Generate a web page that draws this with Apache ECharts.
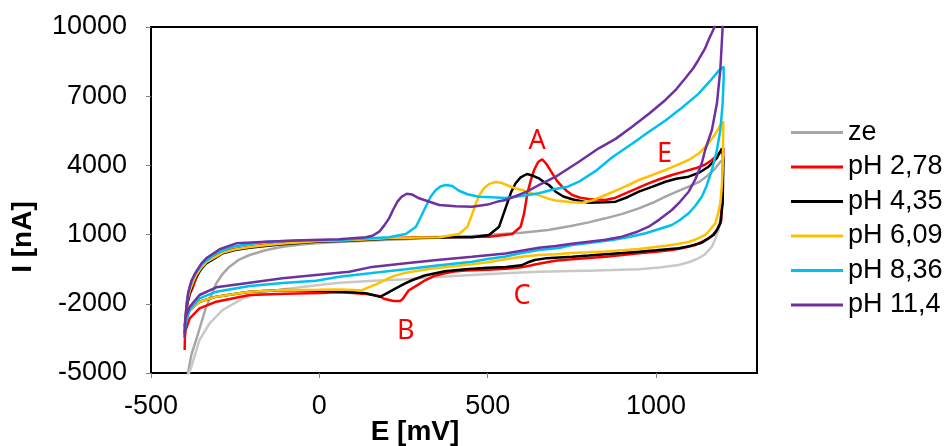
<!DOCTYPE html>
<html>
<head>
<meta charset="utf-8">
<script src="https://cdn.jsdelivr.net/npm/echarts@6/dist/echarts.min.js"></script>
<style>
html,body{margin:0;padding:0;background:#fff;}
#chart{width:948px;height:446px;}
</style>
</head>
<body>
<div id="chart"></div>
<script>
// ---- axis ticks ----
const xTicks = [-500, 0, 500, 1000];
const yTicks = [-5000, -2000, 1000, 4000, 7000, 10000];

// ---- series names ----
const seriesNames = ['ze', 'pH 2,78', 'pH 4,35', 'pH 6,09', 'pH 8,36', 'pH 11,4'];

// ---- data: [E mV, I nA] ----
const zeForward = [[-400,-6500],[-390,-5000],[-380,-4200],[-366,-3569],[-350,-2800],[-336,-2125],[-320,-1600],[-306,-1111],[-287,-700],[-267,-391],[-240,-100],[-207,116],[-160,320],[-109,477],[-60,560],[-10,622],[40,670],[89,700],[150,740],[250,800],[350,860],[450,930],[520,1000],[600,1080],[680,1200],[751,1380],[800,1530],[850,1705],[900,1900],[949,2139],[990,2380],[1028,2644],[1060,2850],[1097,3077],[1130,3300],[1156,3584],[1175,3850],[1191,4161],[1198,4235]];
const zeReverse = [[1198,4235],[1197,3300],[1196,2357],[1191,1700],[1186,1200],[1176,800],[1166,477],[1146,150],[1126,-27],[1097,-200],[1067,-317],[1010,-430],[949,-504],[870,-540],[800,-564],[750,-580],[652,-610],[550,-680],[454,-751],[350,-840],[257,-938],[150,-1010],[59,-1083],[-59,-1284],[-158,-1474],[-227,-1762],[-287,-2268],[-326,-2845],[-356,-3569],[-380,-4727],[-390,-5100],[-400,-6500]];
const ph278 = [[-400,-4000],[-399,-3300],[-397,-2700],[-392,-2000],[-385,-1600],[-375,-1258],[-366,-900],[-356,-534],[-340,-230],[-326,-27],[-307,140],[-287,260],[-250,380],[-207,477],[-160,560],[-109,622],[-50,690],[0,730],[89,767],[200,840],[300,880],[400,900],[504,910],[573,1026],[598,1343],[608,1900],[618,2790],[628,3350],[638,3801],[650,4150],[662,4265],[675,4050],[692,3657],[706,3330],[721,3077],[736,2880],[751,2717],[775,2600],[800,2544],[850,2500],[880,2600],[909,2790],[940,2980],[978,3224],[1010,3400],[1047,3584],[1080,3720],[1117,3874],[1145,4030],[1166,4235],[1185,4480],[1200,4750],
  [1199,4000],[1198,3200],[1196,2400],[1194,1633],[1188,1400],[1181,1200],[1170,1000],[1156,840],[1136,680],[1117,550],[1080,420],[1047,333],[1000,260],[949,190],[900,110],[850,43],[800,-10],[751,-70],[700,-130],[676,-197],[640,-300],[627,-341],[600,-420],[555,-485],[500,-520],[434,-557],[400,-600],[373,-673],[340,-800],[313,-990],[290,-1200],[265,-1423],[247,-1800],[240,-1880],[220,-1880],[192,-1783],[178,-1661],[140,-1580],[100,-1530],[59,-1500],[0,-1530],[-100,-1560],[-207,-1618],[-306,-1908],[-356,-2196],[-385,-2630],[-397,-3135],[-400,-3500]];
const ph435 = [[-400,-3300],[-398,-2700],[-393,-2000],[-385,-1545],[-375,-1100],[-366,-824],[-350,-480],[-336,-245],[-310,-20],[-287,190],[-250,330],[-207,433],[-160,510],[-109,578],[-50,650],[0,700],[89,737],[200,820],[300,860],[400,880],[454,882],[504,983],[534,1343],[558,2357],[570,2850],[583,3224],[598,3480],[617,3627],[635,3550],[652,3442],[670,3250],[682,3150],[702,2860],[725,2650],[751,2530],[800,2383],[850,2400],[880,2427],[915,2620],[949,2860],[990,3080],[1028,3293],[1060,3420],[1097,3510],[1130,3700],[1156,3944],[1180,4300],[1196,4741],[1201,4800],
  [1200,4235],[1199,3300],[1198,2357],[1191,1488],[1181,1200],[1171,983],[1150,780],[1136,650],[1100,500],[1067,406],[1000,320],[949,261],[900,200],[850,146],[800,90],[751,43],[700,0],[676,-20],[640,-100],[620,-200],[600,-330],[555,-400],[500,-440],[434,-500],[373,-590],[313,-774],[277,-968],[252,-1134],[227,-1328],[200,-1550],[180,-1700],[160,-1620],[138,-1545],[100,-1500],[59,-1474],[0,-1430],[-109,-1401],[-207,-1474],[-306,-1690],[-356,-1908],[-385,-2268],[-397,-2630],[-400,-3000]];
const ph609 = [[-400,-3100],[-398,-2500],[-393,-1900],[-385,-1450],[-375,-1050],[-366,-760],[-350,-420],[-336,-200],[-310,20],[-287,220],[-250,360],[-207,460],[-160,540],[-109,610],[-50,670],[0,720],[89,760],[200,840],[300,875],[356,882],[415,1026],[440,1343],[453,1850],[465,2357],[477,2750],[489,3007],[505,3200],[524,3280],[540,3250],[563,3107],[585,2990],[603,2933],[630,2800],[652,2700],[682,2550],[702,2480],[751,2400],[781,2383],[810,2480],[850,2717],[900,3030],[949,3367],[990,3590],[1028,3801],[1060,4000],[1097,4235],[1130,4550],[1156,4958],[1175,5330],[1191,5752],[1200,5900],
  [1199,4800],[1198,3801],[1195,3000],[1191,2357],[1184,1900],[1176,1488],[1160,1200],[1146,983],[1120,800],[1097,680],[1060,580],[1028,520],[990,450],[949,380],[900,320],[850,270],[800,230],[751,200],[700,150],[652,116],[600,40],[553,-70],[500,-200],[454,-290],[405,-361],[330,-480],[257,-650],[220,-800],[192,-990],[170,-1150],[144,-1300],[125,-1420],[99,-1400],[59,-1380],[0,-1390],[-109,-1401],[-207,-1474],[-306,-1690],[-356,-1908],[-385,-2268],[-397,-2630],[-400,-2900]];
const ph836 = [[-400,-3300],[-398,-2992],[-393,-1835],[-385,-1258],[-371,-751],[-346,-245],[-306,190],[-257,477],[-200,600],[-158,694],[-50,750],[59,767],[150,840],[207,882],[257,1026],[287,1343],[301,1750],[316,2210],[331,2650],[346,2933],[361,3100],[376,3150],[395,3110],[415,2900],[440,2750],[474,2644],[514,2616],[553,2590],[573,2620],[620,2720],[652,2790],[700,2980],[738,3077],[771,3293],[820,3750],[870,4350],[930,4950],[978,5450],[1028,5950],[1077,6500],[1126,7100],[1160,7650],[1186,8100],[1201,8280],
  [1201,7776],[1198,6692],[1191,5535],[1181,4668],[1166,3801],[1150,3100],[1136,2644],[1117,2250],[1097,1924],[1070,1620],[1047,1416],[1000,1200],[969,1057],[920,900],[870,767],[800,640],[751,550],[711,420],[652,330],[600,200],[553,50],[500,-60],[454,-174],[350,-340],[257,-504],[150,-680],[59,-824],[-10,-1000],[-109,-1100],[-207,-1228],[-306,-1474],[-356,-1762],[-385,-2268],[-397,-2845],[-400,-3300]];
const ph114 = [[-400,-3450],[-398,-2600],[-390,-1545],[-380,-1000],[-366,-608],[-350,-250],[-336,-27],[-296,363],[-247,622],[-158,694],[-50,750],[59,796],[138,882],[158,950],[178,1126],[193,1400],[207,1705],[220,2100],[232,2427],[245,2650],[260,2770],[275,2740],[296,2574],[336,2383],[356,2283],[405,2230],[454,2210],[500,2300],[534,2450],[553,2500],[580,2650],[617,2860],[652,3150],[702,3510],[771,4161],[830,4741],[880,5150],[929,5679],[980,6250],[1028,6836],[1060,7300],[1087,7776],[1110,8200],[1126,8570],[1145,9050],[1156,9437],[1174,10000],[1188,10500],[1200,11000],
  [1198,10000],[1191,8136],[1181,6692],[1166,5535],[1146,4668],[1136,4091],[1117,3400],[1097,2860],[1070,2400],[1047,2067],[1010,1650],[978,1343],[940,1100],[899,910],[850,780],[800,694],[750,600],[702,506],[652,433],[600,300],[553,180],[454,43],[350,-100],[257,-245],[150,-420],[89,-608],[-10,-751],[-109,-896],[-207,-1083],[-306,-1284],[-356,-1618],[-385,-2125],[-397,-2558],[-400,-3000]];

// ---- annotations ----
const annotText = ['A', 'B', 'C', 'E'];
const annotE = [647, 257, 602, 1025];
const annotI = [5029, -3212, -1691, 4480];

const colors = {
  ze: '#a6a6a6', zeR: '#c8c8c8', p278: '#ff0000', p435: '#000000',
  p609: '#ffc000', p836: '#00c0f0', p114: '#7030a0'
};

function lineSeries(name, data, color) {
  return {
    name: name, type: 'line', data: data, showSymbol: false, symbol: 'none',
    lineStyle: { color: color, width: 2.5 }, itemStyle: { color: color },
    silent: true, animation: false, clip: true
  };
}

const chart = echarts.init(document.getElementById('chart'), null, { renderer: 'canvas' });
const FONT = '"Liberation Sans", Arial, sans-serif';
const plain = v => String(v);

chart.setOption({
  animation: false,
  backgroundColor: '#ffffff',
  grid: { left: 151, right: 191, top: 27, bottom: 73, show: true, borderColor: '#000', borderWidth: 2, outerBoundsMode: 'none' },
  xAxis: {
    type: 'value', min: -500, max: 1300,
    axisLine: { show: true, onZero: false, lineStyle: { color: '#000', width: 2 } },
    axisTick: { show: true, length: 5, customValues: xTicks, lineStyle: { color: '#808080', width: 1 } },
    axisLabel: { customValues: xTicks, formatter: plain, margin: 20, color: '#000', fontSize: 27, fontFamily: FONT },
    splitLine: { show: false }
  },
  yAxis: {
    type: 'value', min: -5000, max: 10000,
    axisLine: { show: true, onZero: false, lineStyle: { color: '#000', width: 2 } },
    axisTick: { show: true, length: 5, customValues: yTicks, lineStyle: { color: '#808080', width: 1 } },
    axisLabel: { customValues: yTicks, formatter: plain, margin: 24, color: '#000', fontSize: 27, fontFamily: FONT },
    splitLine: { show: false }
  },
  legend: {
    data: seriesNames, orient: 'vertical', left: 786, top: 114, itemGap: 7.5,
    icon: 'rect', itemWidth: 52, itemHeight: 3,
    textStyle: { color: '#000', fontSize: 27, fontFamily: FONT, lineHeight: 27 },
    selectedMode: false
  },
  graphic: [
    { type: 'text', x: 415, y: 432, style: { text: 'E [mV]', fill: '#000', fontSize: 28, fontWeight: 'bold', fontFamily: FONT, align: 'center', verticalAlign: 'middle' } },
    { type: 'text', x: 23, y: 237, rotation: Math.PI / 2, style: { text: 'I [nA]', fill: '#000', fontSize: 28, fontWeight: 'bold', fontFamily: FONT, align: 'center', verticalAlign: 'middle' } }
  ],
  series: [
    lineSeries(seriesNames[0], zeForward, colors.ze),
    lineSeries(seriesNames[0], zeReverse, colors.zeR),
    lineSeries(seriesNames[1], ph278, colors.p278),
    lineSeries(seriesNames[2], ph435, colors.p435),
    lineSeries(seriesNames[3], ph609, colors.p609),
    lineSeries(seriesNames[4], ph836, colors.p836),
    lineSeries(seriesNames[5], ph114, colors.p114),
    {
      name: 'labels', type: 'scatter', silent: true, animation: false,
      symbol: 'circle', symbolSize: 1, itemStyle: { color: 'rgba(0,0,0,0)' },
      data: annotText.map((t, i) => ({ name: t, value: [annotE[i], annotI[i]] })),
      label: { show: true, position: 'inside', formatter: p => p.name, color: '#ff0000', opacity: 1, fontSize: 27, fontFamily: '"Noto Sans", sans-serif' },
      z: 10
    }
  ]
});
</script>
</body>
</html>
